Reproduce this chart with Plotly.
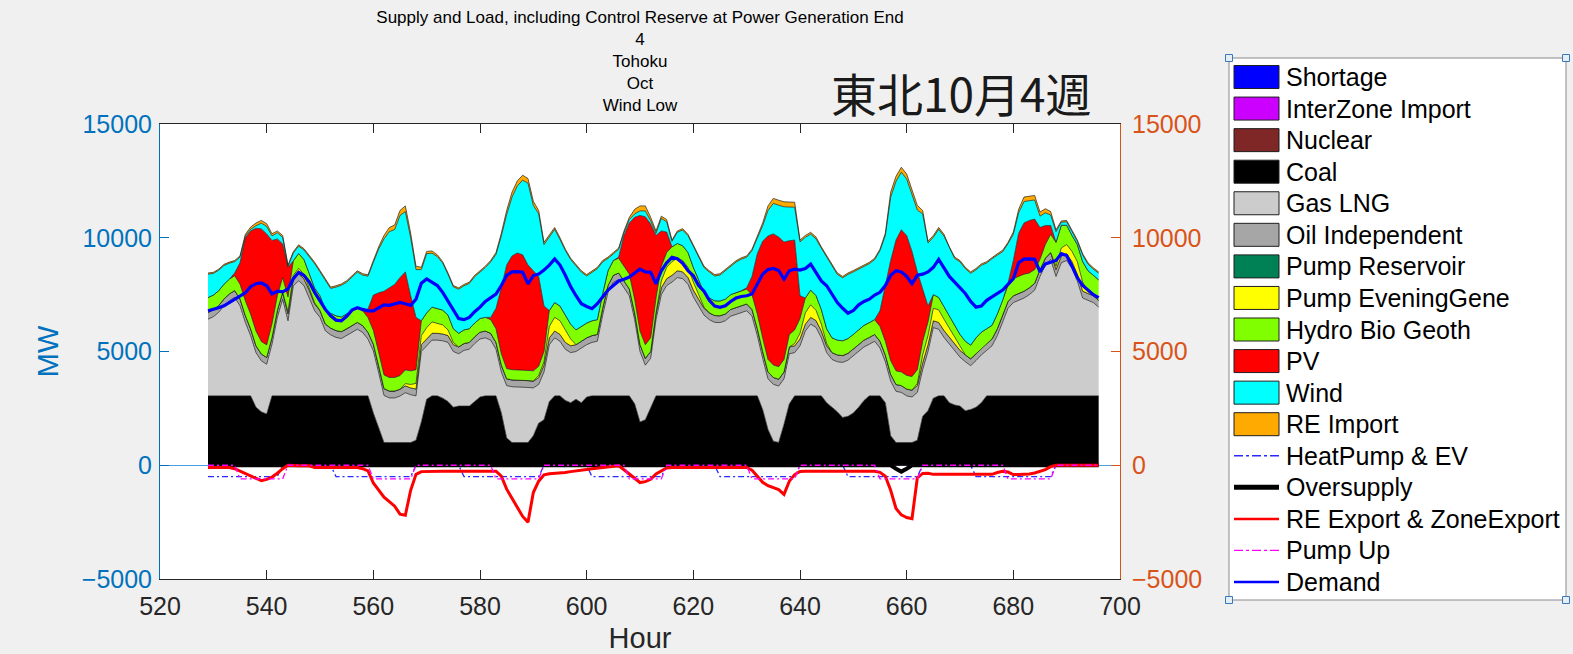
import plotly.graph_objects as go

# ---------------- data ----------------
hours = list(range(529, 697))

zero168 = [0] * 168
shortage = zero168
interzone_import = zero168
nuclear = zero168
pump_reservoir = zero168

coal = [
    3050, 3050, 3050, 3050, 3050, 3050, 3050, 3050, 3050, 2550, 2350, 2250, 3050, 3050, 3050, 3050, 3050, 3050, 3050, 3050, 3050, 3050, 3050, 3050,
    3050, 3050, 3050, 3050, 3050, 3050, 3050, 2300, 1600, 1000, 1000, 1000, 1000, 1000, 1000, 1100, 1900, 2900, 3050, 3050, 2950, 2800, 2550, 2600,
    2600, 2600, 2800, 3000, 3050, 3050, 3050, 2300, 1200, 1000, 1000, 1000, 1000, 1300, 1850, 2000, 2800, 3050, 3050, 2850, 2750, 2900, 2750, 3000,
    3050, 3050, 3050, 3050, 3050, 3050, 3050, 3050, 2700, 1900, 2000, 2500, 3050, 3050, 3050, 3050, 3050, 3050, 3050, 3050, 3050, 3050, 3050, 3050,
    3050, 3050, 3050, 3050, 3050, 3050, 3050, 3050, 2450, 1570, 1060, 1000, 1800, 2700, 3050, 3050, 3050, 3050, 3050, 3050, 2750, 2550, 2350, 2100,
    2150, 2300, 2550, 2850, 3050, 3050, 3050, 2750, 1300, 1000, 1000, 1000, 1000, 1100, 2150, 2400, 2950, 3050, 3050, 2750, 2650, 2600, 2400, 2450,
    2550, 2750, 3050, 3050, 3050, 3050, 3050, 3050, 3050, 3050, 3050, 3050, 3050, 3050, 3050, 3050, 3050, 3050, 3050, 3050, 3050, 3050, 3050, 3050,
]

gas_lng = [
    3370, 3480, 3670, 3960, 4180, 4330, 3960, 3230, 2640, 2400, 2240, 2190, 2270, 3450, 4250, 3300, 4840, 5060, 4840, 4330, 3740, 3450, 2860, 2680,
    2570, 2520, 2640, 2790, 2930, 2790, 2490, 2730, 2470, 2070, 1960, 1960, 2040, 2190, 2100, 1950, 3100, 2350, 2450, 2450, 2520, 2600, 2450, 2300,
    2450, 2500, 2550, 2550, 2550, 2450, 2050, 1800, 2300, 2450, 2450, 2450, 2420, 2100, 1700, 2100, 2500, 2550, 2400, 2250, 2200, 2100, 2400, 2300,
    2350, 2400, 3550, 4550, 5000, 5100, 4750, 4400, 3700, 3100, 2400, 2200, 3350, 4450, 4850, 5000, 5200, 5150, 4900, 4350, 3950, 3550, 3350, 3230,
    3220, 3300, 3500, 3590, 3670, 3740, 3500, 2650, 2250, 2230, 2500, 2480, 2000, 2200, 1900, 2200, 2850, 3150, 3010, 2550, 2200, 2100, 2200, 2420,
    2470, 2500, 2450, 2350, 2270, 2400, 2100, 1800, 2400, 2250, 2200, 2050, 2000, 2100, 2050, 2600, 3100, 2930, 2570, 2580, 2400, 2150, 2150, 1930,
    2050, 2100, 2000, 2200, 2650, 3250, 3850, 4100, 4200, 4300, 4450, 4650, 5250, 5750, 6000, 5250, 5850, 5950, 5600, 5050, 4300, 4200, 4100, 3900,
]

oil_independent = [
    300, 300, 300, 300, 300, 300, 300, 300, 300, 300, 300, 300, 300, 300, 300, 300, 300, 300, 300, 300, 300, 300, 300, 300,
    300, 300, 300, 300, 300, 300, 300, 300, 300, 300, 300, 300, 300, 300, 300, 300, 300, 300, 300, 300, 300, 300, 300, 300,
    300, 300, 300, 300, 300, 300, 300, 300, 300, 300, 300, 300, 300, 300, 300, 300, 300, 300, 300, 300, 300, 300, 300, 300,
    300, 300, 300, 300, 300, 300, 300, 300, 300, 300, 300, 300, 300, 300, 300, 300, 300, 300, 300, 300, 300, 300, 300, 300,
    300, 300, 300, 300, 300, 300, 300, 300, 300, 300, 300, 300, 300, 300, 300, 300, 300, 300, 300, 300, 300, 300, 300, 300,
    300, 300, 300, 300, 300, 300, 300, 300, 300, 300, 300, 300, 300, 300, 300, 300, 300, 300, 300, 300, 300, 300, 300, 300,
    300, 300, 300, 300, 300, 300, 300, 300, 300, 300, 300, 300, 300, 300, 300, 300, 300, 300, 300, 300, 300, 300, 300, 300,
]

pump_evening = [
    0, 0, 0, 0, 0, 0, 0, 0, 0, 0, 0, 0, 0, 0, 0, 100, 150, 250, 200, 100, 50, 0, 0, 0,
    0, 0, 0, 0, 0, 0, 0, 0, 0, 0, 0, 0, 0, 100, 150, 250, 400, 500, 500, 450, 400, 250, 100, 0,
    0, 0, 0, 0, 0, 0, 0, 0, 0, 0, 0, 0, 0, 0, 100, 150, 500, 600, 600, 550, 300, 0, 0, 0,
    0, 0, 0, 0, 0, 0, 0, 0, 0, 0, 0, 0, 0, 300, 500, 600, 550, 500, 450, 350, 200, 50, 0, 0,
    0, 0, 0, 0, 0, 0, 0, 0, 0, 0, 0, 0, 0, 0, 100, 250, 500, 550, 450, 300, 100, 0, 0, 0,
    0, 0, 0, 0, 0, 0, 0, 0, 0, 0, 0, 0, 0, 100, 350, 400, 550, 550, 500, 400, 300, 150, 0, 0,
    0, 0, 0, 0, 0, 0, 0, 0, 0, 0, 0, 0, 0, 0, 0, 150, 350, 400, 450, 550, 400, 100, 0, 0,
]

hydro_bio_geoth = [
    650, 650, 650, 650, 650, 650, 650, 650, 650, 650, 550, 550, 600, 650, 650, 650, 650, 650, 650, 650, 650, 650, 650, 650,
    650, 650, 650, 650, 650, 650, 650, 600, 600, 600, 600, 600, 600, 600, 600, 600, 650, 650, 650, 650, 650, 650, 600, 600,
    600, 600, 600, 600, 600, 600, 600, 500, 450, 450, 450, 450, 450, 450, 400, 450, 700, 650, 650, 650, 650, 650, 650, 650,
    650, 650, 650, 650, 650, 650, 650, 650, 600, 600, 600, 600, 650, 650, 650, 650, 650, 650, 650, 650, 650, 650, 650, 650,
    650, 650, 650, 650, 650, 650, 650, 650, 600, 550, 550, 550, 550, 550, 600, 650, 650, 650, 650, 650, 650, 650, 650, 650,
    650, 650, 650, 650, 650, 650, 650, 600, 600, 600, 600, 600, 600, 600, 600, 600, 600, 550, 550, 550, 550, 550, 600, 600,
    700, 700, 650, 600, 650, 650, 700, 750, 750, 750, 650, 600, 450, 600, 800, 1050, 1000, 850, 700, 750, 900, 900, 900, 900,
]

pv = [
    0, 0, 0, 0, 0, 120, 940, 2770, 3660, 4520, 4950, 4880, 3660, 2500, 1480, 1300, 0, 0, 0, 0, 0, 0, 0, 0,
    0, 0, 0, 0, 0, 0, 380, 1550, 2610, 3680, 3940, 4090, 4310, 4310, 3300, 2300, 0, 0, 0, 0, 0, 0, 0, 0,
    0, 0, 0, 0, 0, 100, 900, 2900, 4550, 5000, 5130, 5050, 4630, 4400, 3950, 2000, 0, 0, 0, 0, 0, 0, 0, 0,
    0, 0, 0, 0, 0, 50, 1350, 2250, 3600, 5080, 5620, 5000, 2750, 1550, 900, 0, 0, 0, 0, 0, 0, 0, 0, 0,
    0, 0, 0, 0, 0, 60, 800, 2650, 4250, 5430, 5760, 5700, 5160, 4120, 3950, 1000, 0, 0, 0, 0, 0, 0, 0, 0,
    0, 0, 0, 0, 0, 0, 700, 2450, 4400, 5750, 6250, 6150, 5500, 4300, 2350, 700, 0, 0, 0, 0, 0, 0, 0, 0,
    0, 0, 0, 0, 0, 0, 100, 800, 1900, 2250, 2310, 2220, 1400, 840, 390, 0, 0, 0, 0, 0, 0, 0, 0, 0,
]

wind = [
    1030, 950, 900, 820, 700, 500, 250, 70, 70, 110, 250, 330, 200, 270, 290, 50, 340, 320, 420, 730, 1070, 1050, 1270, 1090,
    1260, 1390, 1410, 1480, 1560, 1570, 1440, 1440, 1920, 2300, 2470, 2410, 2730, 2650, 2550, 2100, 2250, 2600, 2370, 2270, 2070, 1790, 1840, 1940,
    1940, 1990, 2040, 2040, 2190, 2440, 2370, 2280, 2220, 2580, 2950, 3280, 3600, 2870, 2750, 2700, 3220, 3220, 2920, 2840, 2840, 2790, 2390, 2070,
    2140, 2240, 1390, 540, 290, 340, 120, 150, 150, 200, 260, 150, 100, 550, 450, 240, 490, 690, 740, 940, 1040, 1090, 1140, 1090,
    1140, 1240, 1240, 1340, 1390, 1340, 1140, 720, 680, 1120, 1340, 1400, 1550, 1480, 1440, 2370, 2670, 2460, 2490, 2690, 3140, 3190, 2890, 2770,
    2820, 2750, 2670, 2590, 2590, 2640, 2640, 2200, 2780, 2580, 2530, 2480, 2500, 2720, 3250, 2770, 2520, 2990, 3100, 2960, 2890, 3190, 3190, 3160,
    2990, 2940, 2890, 2930, 2590, 2140, 1740, 1150, 900, 940, 870, 840, 500, 555, 460, 470, 130, 150, 170, 140, 290, 290, 270, 290,
]

re_import = [
    50, 50, 50, 50, 50, 50, 50, 80, 100, 120, 120, 120, 100, 80, 80, 50, 60, 60, 60, 60, 60, 60, 60, 60,
    60, 60, 60, 60, 60, 60, 60, 80, 100, 150, 180, 200, 220, 250, 200, 150, 100, 100, 100, 80, 60, 60, 60, 60,
    60, 60, 60, 60, 60, 60, 80, 120, 180, 220, 220, 220, 200, 180, 150, 100, 80, 80, 80, 60, 60, 60, 60, 60,
    60, 60, 60, 60, 60, 60, 80, 100, 200, 220, 220, 150, 100, 100, 100, 60, 60, 60, 60, 60, 60, 60, 60, 60,
    60, 60, 60, 60, 60, 60, 60, 80, 120, 200, 220, 220, 220, 220, 220, 80, 80, 80, 80, 60, 60, 60, 60, 60,
    60, 60, 60, 60, 60, 60, 60, 100, 220, 220, 220, 220, 200, 200, 150, 80, 80, 80, 80, 60, 60, 60, 60, 60,
    60, 60, 60, 60, 60, 60, 60, 100, 150, 200, 200, 200, 180, 180, 150, 80, 60, 60, 60, 60, 60, 60, 60, 60,
]

demand = [
    6790, 6840, 6920, 7010, 7150, 7300, 7420, 7580, 7850, 7980, 8010, 7890, 7530, 7650, 7620, 7750, 8200, 8480, 8340, 8050, 7600, 7200, 6850, 6570,
    6380, 6350, 6550, 6820, 6920, 6850, 6790, 6790, 6930, 7050, 7030, 7100, 7160, 7100, 7030, 7300, 8000, 8190, 8060, 7900, 7600, 7200, 6850, 6450,
    6400, 6500, 6750, 6950, 7200, 7350, 7520, 7900, 8350, 8500, 8510, 8480, 7970, 8340, 8400, 8580, 8800, 9070, 8800, 8350, 7850, 7450, 7100, 6980,
    6880, 7100, 7400, 7700, 7900, 8100, 8180, 8270, 8450, 8620, 8500, 8480, 7970, 8550, 8900, 9140, 9080, 8880, 8550, 8330, 7900, 7650, 7250, 7000,
    6940, 7010, 7200, 7350, 7420, 7450, 7530, 7950, 8400, 8600, 8650, 8560, 8180, 8550, 8620, 8580, 8650, 8840, 8500, 8100, 7890, 7500, 7150, 6900,
    6680, 6800, 7050, 7200, 7300, 7480, 7600, 7900, 8350, 8550, 8500, 8300, 7980, 8350, 8400, 8500, 8700, 9050, 8650, 8300, 8050, 7800, 7550, 7200,
    6950, 7000, 7250, 7400, 7550, 7700, 7950, 8200, 8900, 9060, 9070, 9050, 8500, 8850, 8920, 9000, 9300, 9220, 8750, 8250, 7900, 7680, 7500, 7370,
]

re_export = [
    -100, -100, -100, -100, -100, -150, -250, -350, -480, -580, -680, -620, -520, -350, -150, 0, -20, -20, -20, -20, -100, -100, -100, -100,
    -100, -100, -100, -100, -100, -150, -250, -780, -1070, -1400, -1600, -1800, -2150, -2200, -1100, -400, -280, -270, -250, -240, -260, -260, -260, -260,
    -260, -260, -260, -260, -260, -260, -260, -480, -1050, -1450, -1850, -2250, -2500, -1200, -700, -420, -370, -360, -340, -320, -280, -260, -220, -190,
    -150, -120, -90, -50, -20, -20, -200, -380, -600, -760, -720, -620, -380, -240, -120, -100, -100, -100, -100, -100, -100, -100, -100, -100,
    -100, -100, -100, -100, -100, -100, -220, -480, -750, -900, -1000, -1070, -1280, -700, -410, -270, -260, -260, -260, -260, -260, -260, -260, -260,
    -260, -260, -260, -260, -260, -260, -310, -480, -1100, -1900, -2180, -2300, -2350, -550, -360, -350, -400, -400, -400, -400, -400, -400, -400, -400,
    -400, -400, -400, -400, -320, -270, -300, -410, -410, -410, -380, -340, -260, -190, -60, 0, 0, 0, 0, 0, 0, 0, 0, 0,
]

heatpump_ev = [
    -500, -500, -500, -500, -500, -500, -500, -500, -500, -500, -500, -500, -500, -500, 0, 0, 0, 0, 0, 0, 0, 0, 0, 0,
    -500, -500, -500, -500, -500, -500, -500, -500, -500, -500, -500, -500, -500, -500, -500, 0, 0, 0, 0, 0, 0, 0, 0, 0,
    -500, -500, -500, -500, -500, -500, -500, -500, -500, -500, -500, -500, -500, -500, -500, 0, 0, 0, 0, 0, 0, 0, 0, 0,
    -500, -500, -500, -500, -500, -500, -500, -500, -500, -500, -500, -500, -500, -500, 0, 0, 0, 0, 0, 0, 0, 0, 0, 0,
    -500, -500, -500, -500, -500, -500, -500, -500, -500, -500, -500, -500, -500, -500, -500, 0, 0, 0, 0, 0, 0, 0, 0, 0,
    -500, -500, -500, -500, -500, -500, -500, -500, -500, -500, -500, -500, -500, -500, 0, 0, 0, 0, 0, 0, 0, 0, 0, 0,
    -500, -500, -500, -500, -500, -500, -500, -500, -500, -500, -500, -500, -500, -500, -500, 0, 0, 0, 0, 0, 0, 0, 0, 0,
]

pump_up = [
    0, 0, 0, 0, 0, 0, -600, -600, -600, -600, -600, -600, -600, -600, -600, 0, 0, 0, 0, 0, 0, 0, 0, 0,
    0, 0, 0, 0, 0, 0, 0, -600, -600, -600, -600, -600, -600, -600, -600, 0, 0, 0, 0, 0, 0, 0, 0, 0,
    0, 0, 0, 0, 0, 0, -600, -600, -600, -600, -600, -600, -600, -600, -600, 0, 0, 0, 0, 0, 0, 0, 0, 0,
    0, 0, 0, 0, 0, 0, 0, -600, -600, -600, -600, -600, -600, -600, 0, 0, 0, 0, 0, 0, 0, 0, 0, 0,
    0, 0, 0, 0, 0, 0, -600, -600, -600, -600, -600, -600, -600, -600, -600, 0, 0, 0, 0, 0, 0, 0, 0, 0,
    0, 0, 0, 0, 0, 0, -600, -600, -600, -600, -600, -600, -600, -600, 0, 0, 0, 0, 0, 0, 0, 0, 0, 0,
    0, 0, 0, 0, 0, 0, -600, -600, -600, -600, -600, -600, -600, -600, -600, 0, 0, 0, 0, 0, 0, 0, 0, 0,
]

oversupply = [0] * 129 + [-150, -280, -150] + [0] * 36

x_ticks = [520, 540, 560, 580, 600, 620, 640, 660, 680, 700]
y_ticks = [-5000, 0, 5000, 10000, 15000]
y_ticktext = ["\u22125000", "0", "5000", "10000", "15000"]

legend_names = ["Shortage", "InterZone Import", "Nuclear", "Coal", "Gas LNG", "Oil Independent",
                "Pump Reservoir", "Pump EveningGene", "Hydro Bio Geoth", "PV", "Wind", "RE Import",
                "HeatPump & EV", "Oversupply", "RE Export & ZoneExport", "Pump Up", "Demand"]

# ---------------- figure ----------------
W, H = 1573, 654
PL, PR, PT, PB = 160, 1120, 124, 579
FONT = "Liberation Sans, Arial, sans-serif"
AX_GREY = "#262626"
BLUE_AX = "#0072BD"
ORANGE_AX = "#D95319"


def xp(x):
    return (x - PL) / (PR - PL)


def yp(y):
    return (PB - y) / (PB - PT)


colors = {
    "Shortage": "#0000FF", "InterZone Import": "#CC00FF", "Nuclear": "#7F2626", "Coal": "#000000",
    "Gas LNG": "#CCCCCC", "Oil Independent": "#A6A6A6", "Pump Reservoir": "#008055",
    "Pump EveningGene": "#FFFF00", "Hydro Bio Geoth": "#80FF00", "PV": "#FF0000", "Wind": "#00FFFF",
    "RE Import": "#FFAA00",
}

stack = [("Shortage", shortage), ("InterZone Import", interzone_import), ("Nuclear", nuclear),
         ("Coal", coal), ("Gas LNG", gas_lng), ("Oil Independent", oil_independent),
         ("Pump Reservoir", pump_reservoir), ("Pump EveningGene", pump_evening),
         ("Hydro Bio Geoth", hydro_bio_geoth), ("PV", pv), ("Wind", wind), ("RE Import", re_import)]

fig = go.Figure()
for name, vals in stack:
    fig.add_trace(go.Scatter(
        x=hours, y=vals, name=name, mode="lines", stackgroup="supply",
        line=dict(color="#1f1f1f", width=0.7), fillcolor=colors[name],
        showlegend=False, hoverinfo="skip"))

DASHDOT = "6px,3px,2px,3px"
fig.add_trace(go.Scatter(x=hours, y=heatpump_ev, name="HeatPump & EV", mode="lines",
                         line=dict(color="#2b2bff", width=1.3, dash=DASHDOT), showlegend=False))
fig.add_trace(go.Scatter(x=hours, y=oversupply, name="Oversupply", mode="lines",
                         line=dict(color="#000000", width=4), showlegend=False))
fig.add_trace(go.Scatter(x=hours, y=re_export, name="RE Export & ZoneExport", mode="lines",
                         line=dict(color="#FF0000", width=3), showlegend=False))
fig.add_trace(go.Scatter(x=hours, y=pump_up, name="Pump Up", mode="lines",
                         line=dict(color="#FF00FF", width=1.3, dash=DASHDOT), showlegend=False))
fig.add_trace(go.Scatter(x=hours, y=demand, name="Demand", mode="lines",
                         line=dict(color="#0000FF", width=3.2), showlegend=False))
# right axis carrier
fig.add_trace(go.Scatter(x=[None], y=[None], yaxis="y2", showlegend=False, hoverinfo="skip"))

# ---------------- manual legend (MATLAB style) ----------------
shapes = []
annotations = []
LX0, LX1, LY0, LY1 = 1229, 1566, 58, 600
shapes.append(dict(type="rect", xref="paper", yref="paper", x0=xp(LX0), x1=xp(LX1), y0=yp(LY1), y1=yp(LY0),
                   fillcolor="white", line=dict(color="#8a8a8a", width=1), layer="above"))
n = len(legend_names)
step = (582 - 77) / (n - 1)
line_styles = {
    "HeatPump & EV": dict(color="#2b2bff", width=1.3, dash="dashdot"),
    "Oversupply": dict(color="#000000", width=5),
    "RE Export & ZoneExport": dict(color="#FF0000", width=2.5),
    "Pump Up": dict(color="#FF00FF", width=1.3, dash="dashdot"),
    "Demand": dict(color="#0000FF", width=2.5),
}
for i, name in enumerate(legend_names):
    yc = 77 + i * step
    if name in colors:
        shapes.append(dict(type="rect", xref="paper", yref="paper", x0=xp(1234), x1=xp(1279),
                           y0=yp(yc + 11.5), y1=yp(yc - 11.5), fillcolor=colors[name],
                           line=dict(color="#1f1f1f", width=1), layer="above"))
    else:
        shapes.append(dict(type="line", xref="paper", yref="paper", x0=xp(1234), x1=xp(1279),
                           y0=yp(yc), y1=yp(yc), line=line_styles[name], layer="above"))
    annotations.append(dict(text=name, xref="paper", yref="paper", x=xp(1284), y=yp(yc),
                            xanchor="left", yanchor="middle", showarrow=False,
                            font=dict(family=FONT, size=25, color="#000000")))
for cx, cy in [(LX0, LY0), (LX1, LY0), (LX0, LY1), (LX1, LY1)]:
    shapes.append(dict(type="rect", xref="paper", yref="paper", x0=xp(cx - 3.5), x1=xp(cx + 3.5),
                       y0=yp(cy + 3.5), y1=yp(cy - 3.5), fillcolor="#e4eef9",
                       line=dict(color="#3c78b4", width=1), layer="above"))

annotations.append(dict(text="東北10月4週", xref="paper", yref="paper", x=xp(961), y=yp(92),
                        xanchor="center", yanchor="middle", showarrow=False,
                        font=dict(family="Noto Sans CJK JP", size=46, color="#1a1a1a")))

fig.update_layout(
    width=W, height=H,
    margin=dict(l=PL, r=W - PR, t=PT, b=H - PB, pad=0, autoexpand=False),
    paper_bgcolor="#F0F0F0", plot_bgcolor="white",
    font=dict(family=FONT, color=AX_GREY),
    title=dict(text="Supply and Load, including Control Reserve at Power Generation End<br>4<br>Tohoku<br>Oct<br>Wind Low",
               x=0.5, xref="paper", xanchor="center", y=1 - 23 / H, yref="container", yanchor="top",
               font=dict(family=FONT, size=17, color="#000000")),
    showlegend=False,
    xaxis=dict(range=[520, 700], tickvals=x_ticks, ticks="inside", ticklen=9, tickwidth=1,
               tickcolor=AX_GREY, showline=True, linecolor=AX_GREY, linewidth=1, mirror="ticks",
               showgrid=False, zeroline=False, ticklabelstandoff=5, automargin=False,
               tickfont=dict(family=FONT, size=25, color=AX_GREY),
               title=dict(text="Hour", font=dict(family=FONT, size=29, color=AX_GREY), standoff=9)),
    yaxis=dict(range=[-5000, 15000], tickvals=y_ticks, ticktext=y_ticktext, ticks="inside", ticklen=9,
               tickcolor=BLUE_AX, showline=True, linecolor=BLUE_AX, linewidth=1, showgrid=False,
               zeroline=True, zerolinecolor="#4a9fdc", zerolinewidth=1, ticklabelstandoff=2,
               automargin=False,
               tickfont=dict(family=FONT, size=25, color=BLUE_AX),
               title=dict(text="MW", font=dict(family=FONT, size=29, color=BLUE_AX), standoff=14)),
    yaxis2=dict(range=[-5000, 15000], tickvals=y_ticks, ticktext=y_ticktext, overlaying="y", side="right",
                ticks="inside", ticklen=9, tickcolor=ORANGE_AX, showline=True, linecolor=ORANGE_AX,
                linewidth=1, showgrid=False, zeroline=False, ticklabelstandoff=6, automargin=False,
                tickfont=dict(family=FONT, size=25, color=ORANGE_AX)),
    shapes=shapes,
    annotations=annotations,
)

fig.write_html("out.html")
